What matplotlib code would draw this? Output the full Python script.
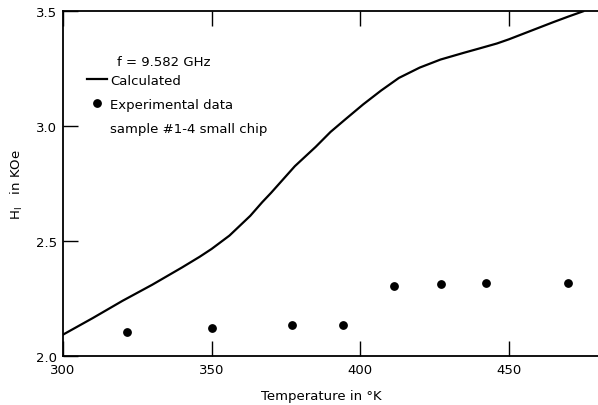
import numpy as np
import matplotlib
matplotlib.use("Agg")
import matplotlib.pyplot as plt
from matplotlib.lines import Line2D

# calculated curve
T_CALC = [300, 310, 320, 330, 340, 346, 350, 356, 363, 367, 370, 378, 385, 390,
          395, 401, 407, 413, 420, 424, 427, 431, 435, 440, 446, 450, 455, 460,
          465, 470, 475]
H_CALC = [2.093, 2.165, 2.24, 2.31, 2.385, 2.432, 2.466, 2.524, 2.61, 2.669, 2.71,
          2.826, 2.91, 2.975, 3.03, 3.095, 3.155, 3.21, 3.255, 3.275, 3.29, 3.305,
          3.32, 3.338, 3.36, 3.378, 3.403, 3.428, 3.453, 3.477, 3.5]

# experimental points
T_EXP = [321.4, 350.0, 377.1, 394.1, 411.2, 427.1, 442.4, 469.9]
H_EXP = [2.104, 2.123, 2.134, 2.136, 2.303, 2.312, 2.318, 2.318]

XTICKS = [300, 350, 400, 450]
YTICKS = [2.0, 2.5, 3.0, 3.5]

plt.rcParams["font.family"] = "DejaVu Sans"

fig = plt.figure(figsize=(5.98, 4.06), dpi=100)
ax = fig.add_axes([0.1054, 0.1207, 0.8946, 0.849])

ax.plot(T_CALC, H_CALC, color="black", lw=1.6)
ax.plot(T_EXP, H_EXP, "o", color="black", ms=5.3, ls="none")

ax.set_xlim(300, 480)
ax.set_ylim(2.0, 3.5)
ax.set_xticks(XTICKS)
ax.set_yticks(YTICKS)
ax.set_xticklabels([str(t) for t in XTICKS])
ax.set_yticklabels([f"{v:.1f}" for v in YTICKS])
ax.tick_params(direction="in", length=11, width=1, labelsize=9.5,
               top=True, right=False)
ax.tick_params(axis="x", pad=5)
ax.tick_params(axis="y", pad=4)
for s in ax.spines.values():
    s.set_linewidth(1.3)
ax.spines["right"].set_visible(False)

ax.set_xlabel("Temperature in °K", fontsize=9.5)
ax.xaxis.set_label_coords(0.482, -0.116)
ax.xaxis.label.set_va("center")
ax.set_ylabel(r"H$_\mathregular{I}$   in KOe", fontsize=9.5)
ax.yaxis.set_label_coords(-0.087, 0.5)
ax.yaxis.label.set_va("center")

ax.text(0.101, 0.855, "f = 9.582 GHz", transform=ax.transAxes,
        fontsize=9.5, va="center", ha="left")

handles = [Line2D([], [], color="black", lw=1.6),
           Line2D([], [], marker="o", color="black", ms=5.3, ls="none"),
           Line2D([], [], color="none")]
labels = ["Calculated", "Experimental data", "sample #1-4 small chip"]
ax.legend(handles, labels, loc="upper left", bbox_to_anchor=(0.045, 0.818),
          frameon=False, fontsize=9.5, handlelength=1.5, handletextpad=0.25,
          labelspacing=0.82, borderpad=0, borderaxespad=0)

fig.savefig("out.png", dpi=100)
